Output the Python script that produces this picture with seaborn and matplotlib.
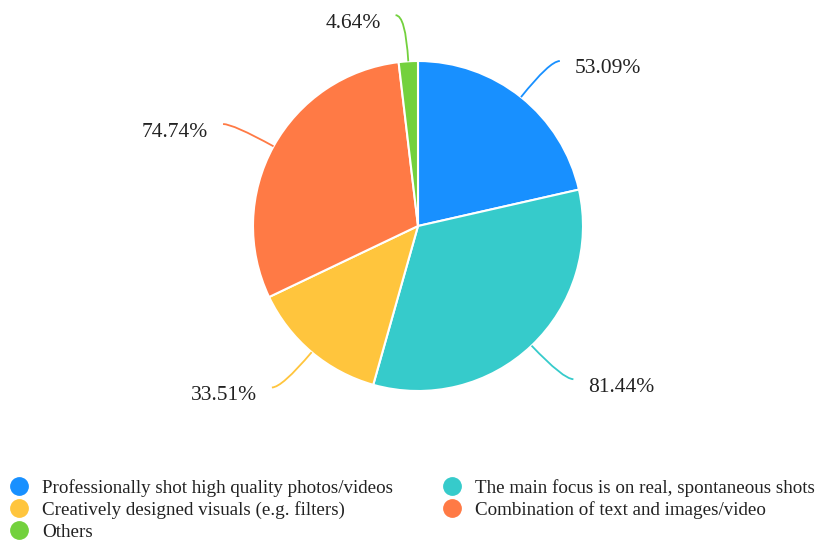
import numpy as np
import matplotlib
matplotlib.use("Agg")
import matplotlib.pyplot as plt
from matplotlib.path import Path
from matplotlib.patches import PathPatch
from matplotlib.lines import Line2D
import seaborn as sns

categories = [
    "Professionally shot high quality photos/videos",
    "The main focus is on real, spontaneous shots",
    "Creatively designed visuals (e.g. filters)",
    "Combination of text and images/video",
    "Others",
]
values = [53.09, 81.44, 33.51, 74.74, 4.64]
labels = ["53.09%", "81.44%", "33.51%", "74.74%", "4.64%"]
colors = ["#1890FF", "#36CBCB", "#FFC53D", "#FF7A45", "#73D13D"]

sns.set_theme(style="white")
plt.rcParams["font.family"] = ["Liberation Serif", "DejaVu Serif"]

W, H = 817, 542
fig = plt.figure(figsize=(W / 100, H / 100), dpi=100)
R_PX = 165
LIM = 1.5
side = 2 * LIM * R_PX
cx, cy = 418, H - 226
ax = fig.add_axes([(cx - side / 2) / W, (cy - side / 2) / H, side / W, side / H])

wedges, _ = ax.pie(values, colors=colors, startangle=90, counterclock=False,
                   radius=1.0, wedgeprops=dict(edgecolor="white", linewidth=1.5))
ax.set_xlim(-LIM, LIM)
ax.set_ylim(-LIM, LIM)
ax.set_aspect("equal")
ax.axis("off")

px = 1.0 / R_PX
for w, lab, col in zip(wedges, labels, colors):
    mid = np.deg2rad((w.theta1 + w.theta2) / 2)
    dx, dy = np.cos(mid), np.sin(mid)
    p0 = (dx, dy)
    p1 = (1.28 * dx, 1.28 * dy)
    sgn = 1 if dx >= 0 else -1
    p2 = (p1[0] + sgn * 10 * px, p1[1])
    path = Path([p0, p1, p2], [Path.MOVETO, Path.CURVE3, Path.CURVE3])
    ax.add_patch(PathPatch(path, facecolor="none", edgecolor=col, lw=1.3))
    ax.text(p2[0] + sgn * 15 * px, p2[1] - 8 * px, lab,
            ha="left" if sgn > 0 else "right", va="center",
            fontsize=15.5, color="#222222")

order = [0, 2, 4, 1, 3]
handles = [Line2D([], [], marker="o", linestyle="none", markersize=12.5,
                  markerfacecolor=colors[i], markeredgecolor=colors[i]) for i in order]
fig.legend(handles, [categories[i] for i in order], ncol=2,
           loc="upper left", bbox_to_anchor=(8 / W, 1 - 479 / H),
           frameon=False, fontsize=13.7, handletextpad=0.6,
           labelspacing=0.22, columnspacing=2.5, handlelength=1.2,
           borderpad=0, borderaxespad=0, labelcolor="#222222")

fig.savefig("out.png", dpi=100)
